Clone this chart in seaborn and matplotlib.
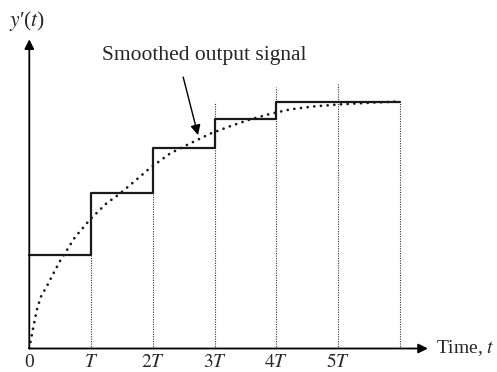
import matplotlib
matplotlib.use("Agg")
import matplotlib.pyplot as plt
import seaborn as sns

# Sampled staircase output (level held over each period T)
step_t = [0, 1, 2, 3, 4, 6]
step_level = [0.38, 0.63, 0.81, 0.93, 1.0, 1.0]

# Smoothed output signal
curve_t = [0, 0.065, 0.12, 0.184, 0.29, 0.39, 0.51, 0.605, 0.74, 0.874, 0.98,
           1.12, 1.25, 1.44, 1.68, 1.95, 2.28, 2.6, 2.93, 3.25, 3.57, 3.9,
           4.22, 4.6, 5.0, 5.5, 6.0]
curve_v = [0, 0.086, 0.154, 0.208, 0.255, 0.304, 0.36, 0.397, 0.451, 0.49, 0.522,
           0.556, 0.588, 0.622, 0.672, 0.73, 0.79, 0.83, 0.87, 0.9, 0.927, 0.95,
           0.968, 0.98, 0.988, 0.995, 1.0]

# Dotted period markers and how high each one reaches
grid_t = [1, 2, 3, 4, 5, 6]
grid_top = [0.38, 0.63, 1.0, 1.06, 1.07, 1.0]

tick_pos = [0, 1, 2, 3, 4, 5]
tick_labels = ["0", "$T$", "$2T$", "$3T$", "$4T$", "$5T$"]

sns.set_style("white")
plt.rcParams["font.family"] = "serif"
plt.rcParams["font.serif"] = ["Liberation Serif", "DejaVu Serif"]
plt.rcParams["mathtext.fontset"] = "stix"

fig = plt.figure(figsize=(4.97, 3.72), dpi=100)
ax = fig.add_axes([0, 23.5 / 372, 1, 348.5 / 372])

ink = "#1a1a1a"

ax.vlines(grid_t, 0, grid_top, colors="#333333", linewidth=0.8,
          linestyles=(0, (1, 1.2)))

sns.lineplot(x=step_t, y=step_level, ax=ax, drawstyle="steps-post",
             color=ink, linewidth=1.6, sort=False)
sns.lineplot(x=curve_t, y=curve_v, ax=ax, color=ink, linewidth=2.0,
             linestyle=(0, (0.01, 2.4)), dash_capstyle="round", sort=False)

# Axes with arrow heads
ax.annotate("", xy=(6.45, 0), xytext=(0, 0), annotation_clip=False,
            arrowprops=dict(arrowstyle="-|>", color="black", lw=1.3,
                            mutation_scale=14, shrinkA=0, shrinkB=0))
ax.annotate("", xy=(0, 1.252), xytext=(0, 0), annotation_clip=False,
            arrowprops=dict(arrowstyle="-|>", color="black", lw=1.3,
                            mutation_scale=14, shrinkA=0, shrinkB=0))

# Label pointing at the smooth curve
ax.annotate("", xy=(2.73, 0.864), xytext=(2.49, 1.099),
            arrowprops=dict(arrowstyle="-|>", color="black", lw=1.0,
                            mutation_scale=15, shrinkA=0, shrinkB=0))
ax.text(2.83, 1.168, "Smoothed output signal", ha="center", va="baseline",
        fontsize=15.5)

ax.text(-0.03, 1.324, "$y$\u2032($t$)", ha="center", va="center", fontsize=15.5)
ax.text(6.58, 0, "Time, $t$", ha="left", va="center", fontsize=14)

ax.set_xlim(-0.474, 7.568)
ax.set_ylim(0, 1.411)
ax.set_xticks(tick_pos, labels=tick_labels)
ax.set_yticks([])
ax.tick_params(axis="x", length=0, pad=13, labelsize=14)
for lab in ax.get_xticklabels():
    lab.set_verticalalignment("baseline")
ax.set_xlabel("")
ax.set_ylabel("")
for s in ax.spines.values():
    s.set_visible(False)

fig.savefig("out.png", dpi=100)
